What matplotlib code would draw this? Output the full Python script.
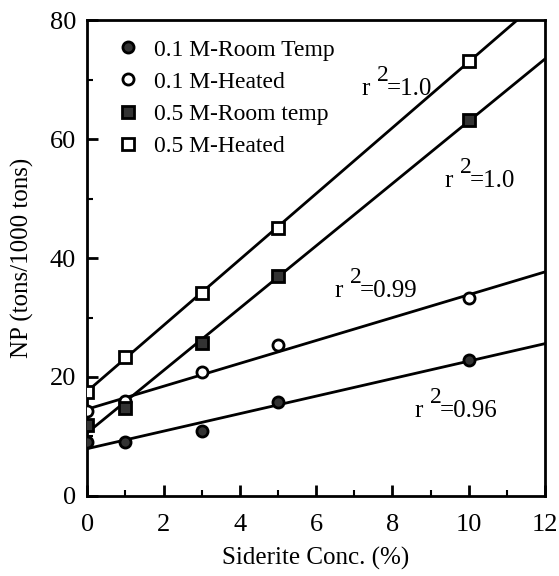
import numpy as np
import matplotlib.pyplot as plt
from matplotlib.ticker import MultipleLocator

# data
x = [0, 1, 3, 5, 10]
room_01 = [9.1, 9.0, 10.9, 15.8, 22.9]
heated_01 = [14.2, 16.0, 20.8, 25.3, 33.2]
room_05 = [11.9, 14.8, 25.7, 37.0, 63.2]
heated_05 = [17.5, 23.4, 34.2, 45.0, 73.1]

labels = ["0.1 M-Room Temp", "0.1 M-Heated", "0.5 M-Room temp", "0.5 M-Heated"]
r2_text = ["=1.0", "=1.0", "=0.99", "=0.96"]
r2_pos = [(7.2, 67.4), (9.37, 52.0), (6.49, 33.4), (8.59, 13.3)]

plt.rcParams['font.family'] = ['Liberation Serif', 'DejaVu Serif']

fig = plt.figure(figsize=(5.59, 5.76), dpi=100)
ax = fig.add_axes([0.156, 0.139, 0.819, 0.826])

series = [room_01, heated_01, room_05, heated_05]
styles = [
    dict(marker='o', mfc='#333333', mec='black'),
    dict(marker='o', mfc='white', mec='black'),
    dict(marker='s', mfc='#333333', mec='black'),
    dict(marker='s', mfc='white', mec='black'),
]

xfit = np.array([0, 12])
for ys, st, lab in zip(series, styles, labels):
    k, b = np.polyfit(x, ys, 1)
    ax.plot(xfit, k * xfit + b, color='black', lw=2, zorder=2)
    ax.plot(x, ys, ls='none', ms=8, mew=2, label=lab, zorder=3, **st)

# r^2 labels with a big raised "2"
for (tx, ty), t in zip(r2_pos, r2_text):
    ax.text(tx, ty, "r", fontsize=18, ha='left', va='baseline')
    ax.annotate("2", (tx, ty), xytext=(11, 10), textcoords='offset points',
                fontsize=17, ha='left', va='baseline')
    ax.annotate(t, (tx, ty), xytext=(18, 0), textcoords='offset points',
                fontsize=18, ha='left', va='baseline')

ax.set_xlim(0, 12)
ax.set_ylim(0, 80)
ax.xaxis.set_major_locator(MultipleLocator(2))
ax.xaxis.set_minor_locator(MultipleLocator(1))
ax.yaxis.set_major_locator(MultipleLocator(20))
ax.yaxis.set_minor_locator(MultipleLocator(10))
ax.tick_params(which='major', direction='in', length=8, width=2, labelsize=19, pad=8)
ax.tick_params(axis='x', which='major', pad=13)
ax.tick_params(which='minor', direction='in', length=4, width=1.5)
for s in ax.spines.values():
    s.set_linewidth(2)

ax.set_xlabel("Siderite Conc. (%)", fontsize=18, labelpad=8)
ax.set_ylabel("NP (tons/1000 tons)", fontsize=18, labelpad=11)

ax.legend(loc='upper left', bbox_to_anchor=(0.022, 1.0), frameon=False,
          fontsize=17, handlelength=1, handletextpad=0.6, labelspacing=0.45,
          borderaxespad=0.3, borderpad=0.5)

fig.savefig("out.png", dpi=100)
